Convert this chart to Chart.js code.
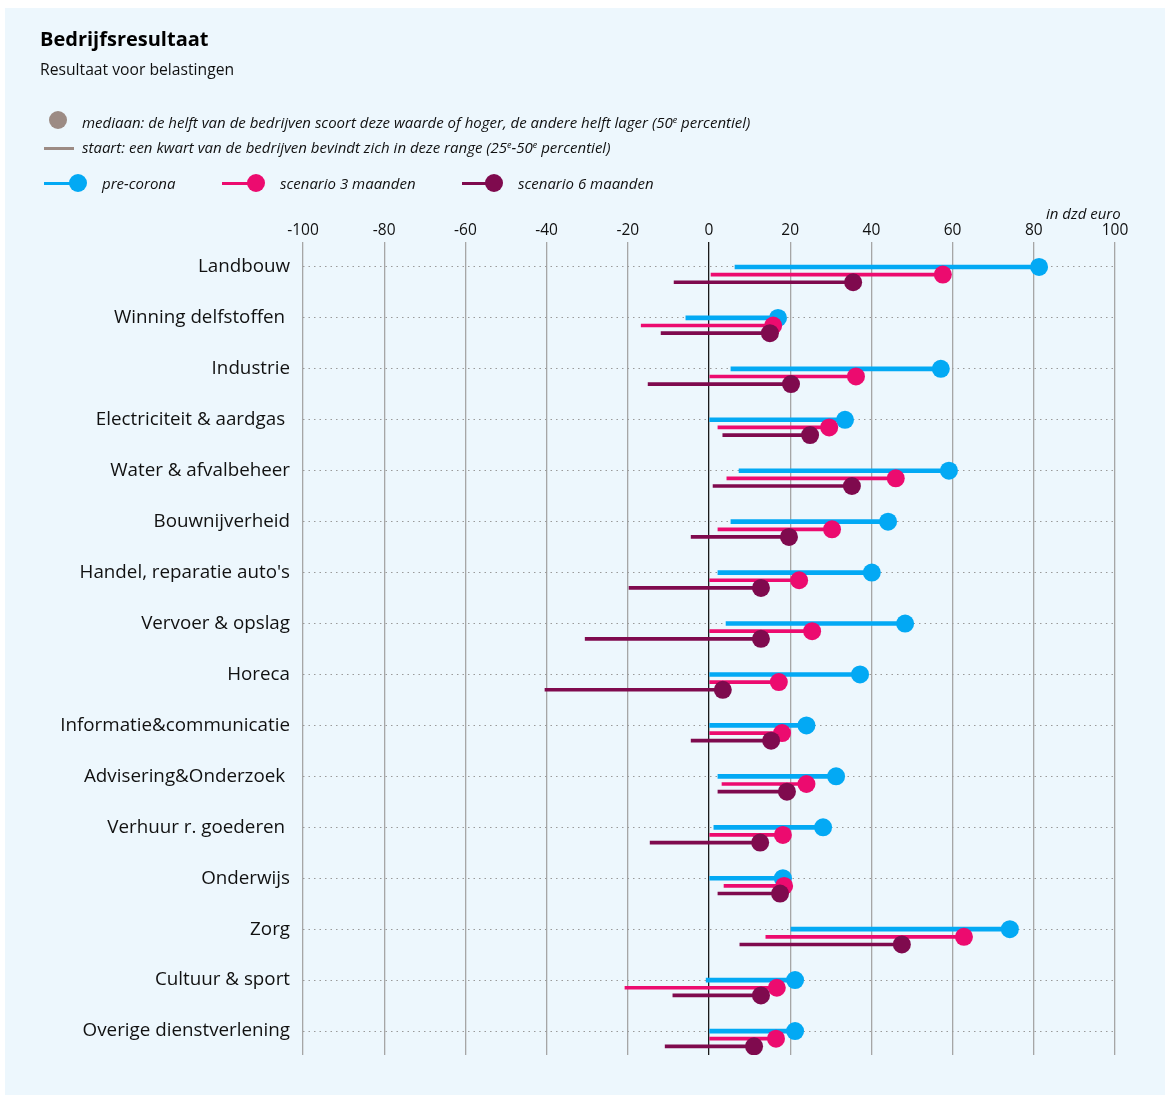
<!DOCTYPE html>
<html>
<head>
<meta charset="utf-8">
<script src="https://cdn.jsdelivr.net/npm/chart.js@4.4.1/dist/chart.umd.min.js"></script>
<style>
  html, body { margin: 0; padding: 0; background: #ffffff; }
  body { width: 1169px; height: 1097px; position: relative; overflow: hidden; font-family: 'Open Sans', sans-serif; color: #111; }
  #panel { position: absolute; left: 5px; top: 8px; width: 1160px; height: 1087px; background: #edf7fd; }
  #chart { position: absolute; left: 0; top: 0; }
  .t { position: absolute; white-space: nowrap; }
  .title { left: 40px; top: 29px; font-size: 20px; line-height: 20px; font-weight: 700; color: #000; }
  .sub { left: 40px; top: 62px; font-size: 15.7px; line-height: 15.7px; color: #111; }
  .leg { font-size: 15px; line-height: 15px; font-style: italic; color: #111; }
  .leg sup { font-size: 9px; vertical-align: 5px; line-height: 0; }
  .dot { position: absolute; width: 18px; height: 18px; border-radius: 50%; }
  .ln { position: absolute; height: 3px; }
</style>
</head>
<body>
<div id="panel"></div>
<canvas id="chart" width="1169" height="1097"></canvas>

<div class="t title">Bedrijfsresultaat</div>
<div class="t sub">Resultaat voor belastingen</div>

<div class="dot" style="left:49px; top:111px; background:#9c8b84;"></div>
<div class="t leg" style="left:82px; top:115px;">mediaan: de helft van de bedrijven scoort deze waarde of hoger, de andere helft lager (50<sup>e</sup> percentiel)</div>
<div class="ln" style="left:44px; top:147px; width:30px; background:#9c8b84;"></div>
<div class="t leg" style="left:82px; top:140px;">staart: een kwart van de bedrijven bevindt zich in deze range (25<sup>e</sup>-50<sup>e</sup> percentiel)</div>

<div class="ln" style="left:44px; top:182px; width:30px; background:#03a9f4;"></div>
<div class="dot" style="left:69px; top:174px; background:#03a9f4;"></div>
<div class="t leg" style="left:102px; top:176px;">pre-corona</div>
<div class="ln" style="left:222px; top:182px; width:30px; background:#ec0b6f;"></div>
<div class="dot" style="left:247px; top:174px; background:#ec0b6f;"></div>
<div class="t leg" style="left:280px; top:176px;">scenario 3 maanden</div>
<div class="ln" style="left:462px; top:182px; width:30px; background:#7f0a4e;"></div>
<div class="dot" style="left:485px; top:174px; background:#7f0a4e;"></div>
<div class="t leg" style="left:518px; top:176px;">scenario 6 maanden</div>

<div class="t leg" style="left:1046px; top:206px;">in dzd euro</div>

<script>
// ---- data (in dzd euro) ----
const categories = [
  "Landbouw", "Winning delfstoffen ", "Industrie", "Electriciteit & aardgas ",
  "Water & afvalbeheer", "Bouwnijverheid", "Handel, reparatie auto's", "Vervoer & opslag",
  "Horeca", "Informatie&communicatie", "Advisering&Onderzoek ", "Verhuur r. goederen ",
  "Onderwijs", "Zorg", "Cultuur & sport", "Overige dienstverlening"
];
const seriesNames = ["pre-corona", "scenario 3 maanden", "scenario 6 maanden"];

// 25th percentile (start of tail)
const preCoronaP25  = [6.4, -5.7, 5.4, 0, 7.4, 5.4, 2.2, 4.2, 0, 0, 2.2, 1.2, 0, 20.2, -0.7, 0];
const scenario3P25  = [0.5, -16.7, 0.2, 2.2, 4.4, 2.2, 0, 0, 0, 0, 3.2, 0, 3.7, 14, -20.7, 0];
const scenario6P25  = [-8.6, -11.8, -15, 3.4, 1, -4.4, -19.7, -30.5, -40.4, -4.4, 2.2, -14.5, 2.2, 7.6, -8.9, -10.8];

// median (50th percentile)
const preCoronaMed  = [81.3, 17, 57.1, 33.5, 59.1, 44.1, 40.1, 48.3, 37.2, 24, 31.3, 28.1, 18.2, 74.1, 21.2, 21.2];
const scenario3Med  = [57.6, 15.8, 36.2, 29.6, 46, 30.3, 22.2, 25.4, 17.2, 18, 24, 18.2, 18.5, 62.8, 16.7, 16.5];
const scenario6Med  = [35.5, 15, 20.2, 24.9, 35.2, 19.7, 12.8, 12.8, 3.4, 15.3, 19.2, 12.6, 17.5, 47.5, 12.8, 11.1];

const xTicks = [-100, -80, -60, -40, -20, 0, 20, 40, 60, 80, 100];

// ---- styling ----
const colors = ["#03a9f4", "#ec0b6f", "#7f0a4e"];
const rowOffsets = [0, 0.15, 0.3];     // vertical shift within a category row
const lineThickness = [4, 3, 3];
const starts = [preCoronaP25, scenario3P25, scenario6P25];
const medians = [preCoronaMed, scenario3Med, scenario6Med];

const datasets = [];
seriesNames.forEach((name, s) => {
  datasets.push({
    type: 'bar',
    label: name + ' staart',
    indexAxis: 'y',
    grouped: false,
    barThickness: lineThickness[s],
    data: categories.map((c, i) => ({ x: [starts[s][i], medians[s][i]], y: i + rowOffsets[s] })),
    backgroundColor: colors[s],
    borderWidth: 0,
    order: 10 - 2 * s
  });
  datasets.push({
    type: 'scatter',
    label: name,
    data: categories.map((c, i) => ({ x: medians[s][i], y: i + rowOffsets[s] })),
    pointRadius: 9,
    pointHoverRadius: 9,
    pointBackgroundColor: colors[s],
    pointBorderWidth: 0,
    order: 9 - 2 * s
  });
});

new Chart(document.getElementById('chart'), {
  type: 'bar',
  data: { datasets },
  options: {
    responsive: false,
    animation: false,
    devicePixelRatio: 1,
    layout: { padding: { top: 200, right: 54, bottom: 42, left: 0 } },
    plugins: { legend: { display: false }, tooltip: { enabled: false }, title: { display: false } },
    scales: {
      x: {
        type: 'linear',
        position: 'top',
        offset: false,
        min: -100,
        max: 100,
        afterBuildTicks: a => { a.ticks = xTicks.map(v => ({ value: v })); },
        afterFit: s => { s.height = 42; },
        border: { display: false },
        grid: {
          offset: false,
          drawTicks: false,
          lineWidth: 1.3,
          color: ctx => (ctx.tick && ctx.tick.value === 0) ? '#1a1a1a' : '#a6a6a6'
        },
        ticks: {
          padding: 2,
          color: '#111',
          font: { family: "'Open Sans', sans-serif", size: 15.5 },
          callback: v => String(v)
        }
      },
      y: {
        type: 'linear',
        reverse: true,
        offset: false,
        min: -0.49,
        max: 15.47,
        afterBuildTicks: a => { a.ticks = categories.map((c, i) => ({ value: i })); },
        afterFit: s => { s.width = 303; },
        border: { display: false, dash: [1.5, 4] },
        grid: { offset: false, drawTicks: false, color: '#9a9a9a', lineWidth: 1 },
        ticks: {
          padding: 13,
          color: '#111',
          font: { family: "'Open Sans', sans-serif", size: 18.8 },
          callback: v => categories[v]
        }
      }
    }
  }
});
</script>
</body>
</html>
